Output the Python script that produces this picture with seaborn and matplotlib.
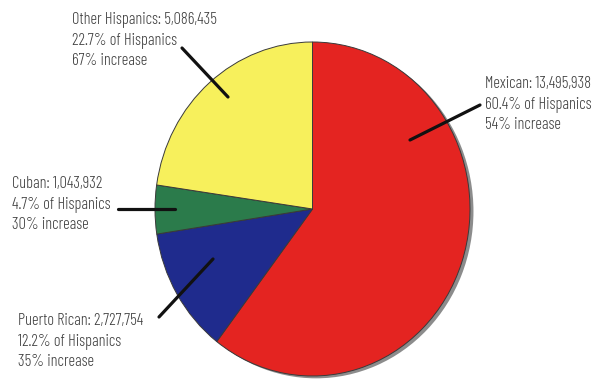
import matplotlib
matplotlib.use("Agg")
import matplotlib.pyplot as plt
import seaborn as sns

# Hispanic population by origin
groups = ["Mexican", "Puerto Rican", "Cuban", "Other Hispanics"]
population = [13495938, 2727754, 1043932, 5086435]
share_pct = [60.4, 12.2, 4.7, 22.7]
increase_pct = [54, 35, 30, 67]
slice_colors = ["#E42421", "#1F2B8D", "#2B7B4B", "#F7F05C"]

sns.set_theme(style="white")
plt.rcParams["font.family"] = ["Barlow Condensed", "Roboto Condensed", "DejaVu Sans"]

W, H = 610, 382
fig = plt.figure(figsize=(W / 100, H / 100), dpi=100)
fig.patch.set_facecolor("white")

# pie axes bounding the (slightly tall) pie
left, right, top, bottom = 155, 470, 42, 376
ax = fig.add_axes([left / W, 1 - bottom / H, (right - left) / W, (bottom - top) / H])
# soft grey drop shadow behind the pie
ax.pie([1], colors=["#8c8c8c"], radius=1.0, center=(0.022, -0.014),
       wedgeprops=dict(linewidth=0))
ax.pie(share_pct, colors=slice_colors, startangle=90, counterclock=False,
       radius=1.0, wedgeprops=dict(edgecolor="#3a3a3a", linewidth=0.7))
ax.set_aspect("auto")
ax.set_xlim(-1, 1)
ax.set_ylim(-1, 1)
ax.axis("off")

# overlay in pixel coordinates for labels and leader lines
ov = fig.add_axes([0, 0, 1, 1])
ov.set_xlim(0, W)
ov.set_ylim(H, 0)
ov.axis("off")
ov.patch.set_alpha(0)

label_pos = {
    "Mexican": (485, 76),
    "Puerto Rican": (18, 313),
    "Cuban": (12, 176),
    "Other Hispanics": (72, 12),
}
leaders = {
    "Mexican": ((480, 105), (410, 140)),
    "Puerto Rican": ((159, 317), (213, 259)),
    "Cuban": ((118, 209), (175, 209)),
    "Other Hispanics": ((182, 48), (228, 97)),
}

for g, pop, sh, inc in zip(groups, population, share_pct, increase_pct):
    x, y = label_pos[g]
    txt = f"{g}: {pop:,}\n{sh}% of Hispanics\n{inc}% increase"
    ov.text(x, y, txt, ha="left", va="top", fontsize=11.8, fontweight=300,
            color="#404040", linespacing=1.38)
    (x0, y0), (x1, y1) = leaders[g]
    ov.plot([x0, x1], [y0, y1], color="#111111", lw=2.3, solid_capstyle="round")

fig.savefig("out.png", dpi=100, facecolor="white")
